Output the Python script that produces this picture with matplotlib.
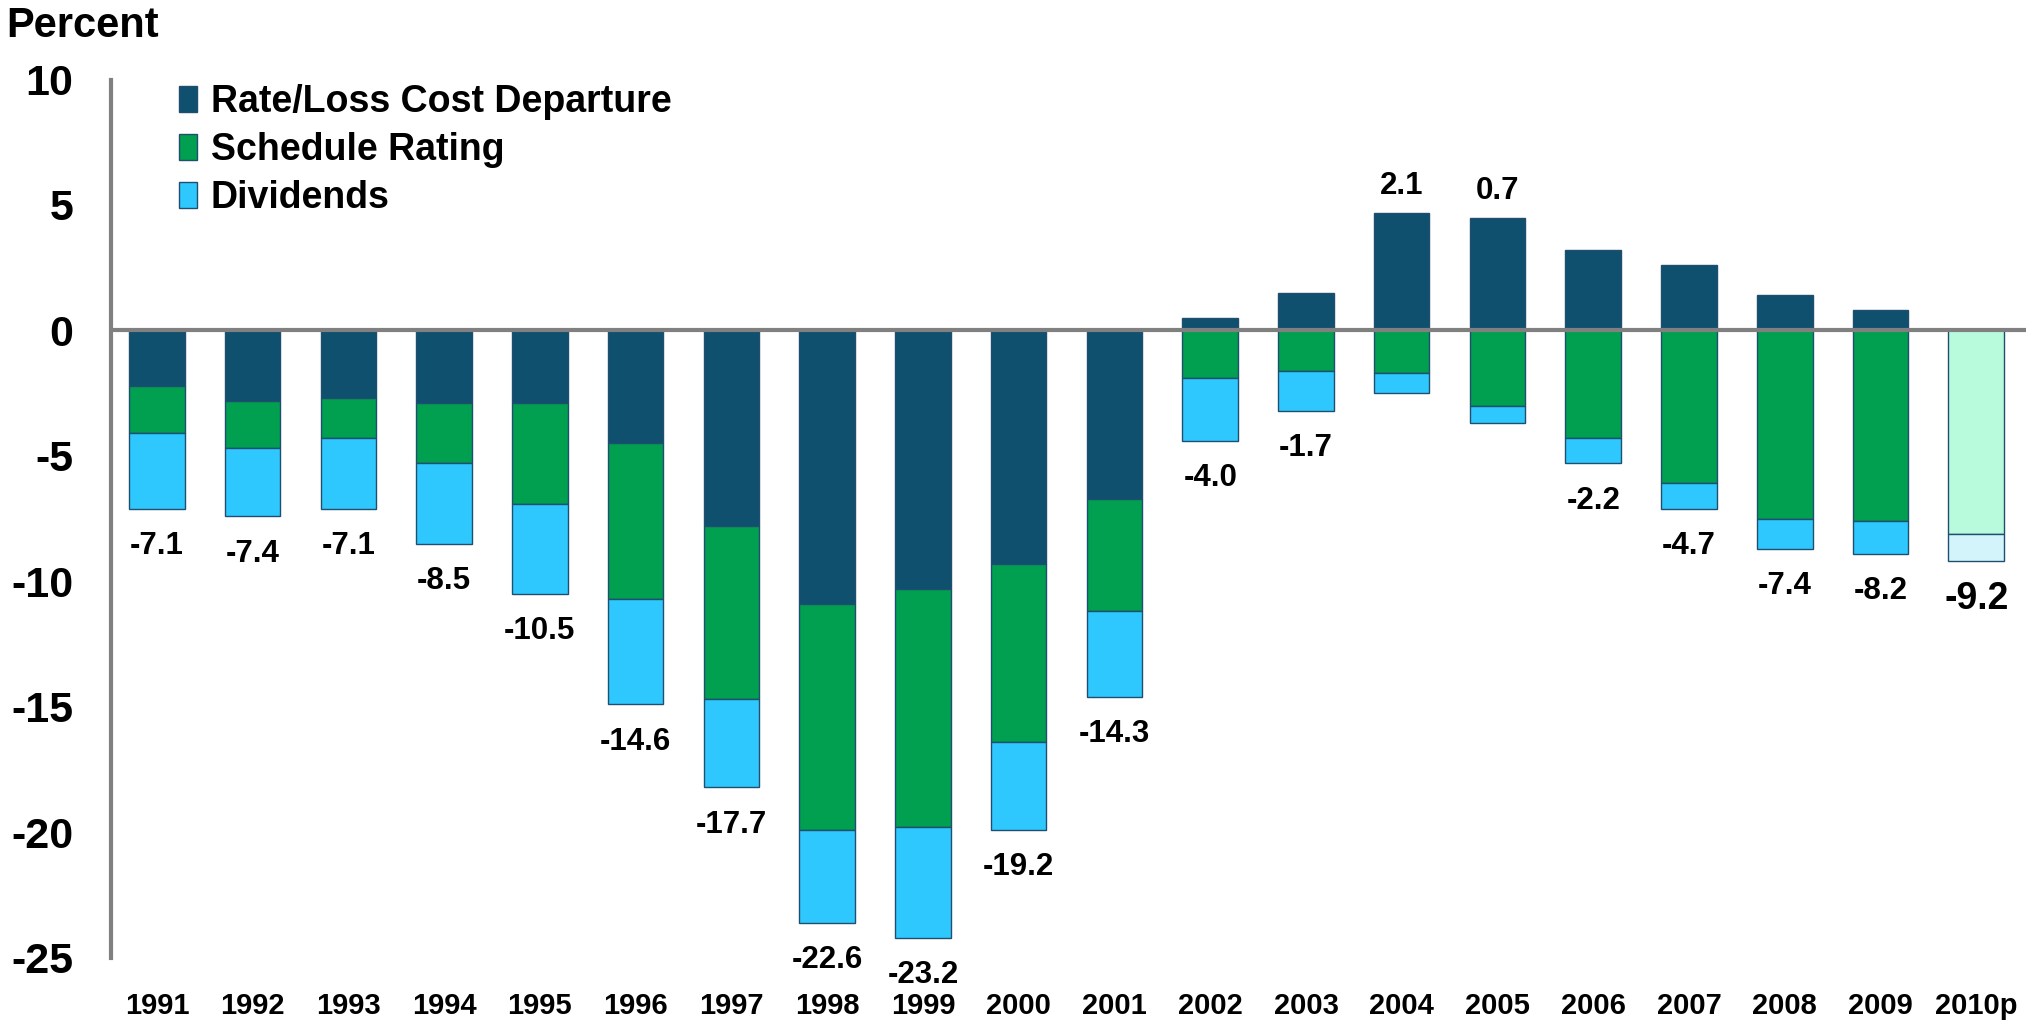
import matplotlib
matplotlib.use('Agg')
import matplotlib.pyplot as plt
import numpy as np

plt.rcParams['font.family'] = ['Liberation Sans', 'DejaVu Sans']
plt.rcParams['font.weight'] = 'bold'
plt.rcParams['axes.unicode_minus'] = False

years = ['1991', '1992', '1993', '1994', '1995', '1996', '1997', '1998', '1999', '2000',
         '2001', '2002', '2003', '2004', '2005', '2006', '2007', '2008', '2009', '2010p']
rate_loss = [-2.2, -2.8, -2.7, -2.9, -2.9, -4.5, -7.8, -10.9, -10.3, -9.3,
             -6.7, 0.5, 1.5, 4.7, 4.5, 3.2, 2.6, 1.4, 0.8, 0.0]
schedule = [-1.9, -1.9, -1.6, -2.4, -4.0, -6.2, -6.9, -9.0, -9.5, -7.1,
            -4.5, -1.9, -1.6, -1.7, -3.0, -4.3, -6.1, -7.5, -7.6, -8.1]
dividends = [-3.0, -2.7, -2.8, -3.2, -3.6, -4.2, -3.5, -3.7, -4.4, -3.5,
             -3.4, -2.5, -1.6, -0.8, -0.7, -1.0, -1.0, -1.2, -1.3, -1.1]
totals = ['-7.1', '-7.4', '-7.1', '-8.5', '-10.5', '-14.6', '-17.7', '-22.6', '-23.2', '-19.2',
          '-14.3', '-4.0', '-1.7', '2.1', '0.7', '-2.2', '-4.7', '-7.4', '-8.2', '-9.2']

c_rate = '#10506F'
c_sched = '#00A050'
c_div = '#2EC8FF'
edge = '#1F4E6E'

x = np.arange(len(years))
rate = np.array(rate_loss)
sched = np.array(schedule)
div = np.array(dividends)

sched_bottom = np.minimum(rate, 0)
div_bottom = sched_bottom + sched

sched_colors = [c_sched] * (len(years) - 1) + ['#B8FADC']
div_colors = [c_div] * (len(years) - 1) + ['#D4F4FC']

fig = plt.figure(figsize=(20.43, 10.25), dpi=100)
ax = fig.add_axes([0.0543, 0.0657, 0.9374, 0.8567])

w = 0.58
ax.bar(x, rate, w, color=c_rate, edgecolor=edge, linewidth=1, label='Rate/Loss Cost Departure')
ax.bar(x, sched, w, bottom=sched_bottom, color=sched_colors, edgecolor=edge, linewidth=1,
       label='Schedule Rating')
ax.bar(x, div, w, bottom=div_bottom, color=div_colors, edgecolor=edge, linewidth=1,
       label='Dividends')

# net value labels, last one (projection) is bigger
for i, t in enumerate(totals):
    fs = 27 if i == len(years) - 1 else 22.5
    if float(t) > 0:
        ax.annotate(t, (x[i], rate[i]), xytext=(0, 19), textcoords='offset points',
                    ha='center', va='center', fontsize=fs, fontweight='bold')
    else:
        low = div_bottom[i] + div[i]
        ax.annotate(t, (x[i], low), xytext=(0, -27), textcoords='offset points',
                    ha='center', va='center', fontsize=fs, fontweight='bold')

ax.axhline(0, color='#808080', linewidth=3, zorder=3)

ax.set_xlim(-0.48, 19.52)
ax.set_ylim(-25, 10)
ax.set_yticks([10, 5, 0, -5, -10, -15, -20, -25])
ax.set_xticks(x)
ax.set_xticklabels(years)
ax.tick_params(axis='x', length=0, pad=25, labelsize=21)
ax.tick_params(axis='y', length=0, pad=27, labelsize=31)

for s in ['top', 'right', 'bottom']:
    ax.spines[s].set_visible(False)
ax.spines['left'].set_color('#808080')
ax.spines['left'].set_linewidth(3)

ax.legend(loc='upper left', bbox_to_anchor=(0.0354, 0.995), frameon=False, fontsize=27,
          handlelength=0.5, handleheight=0.7, handletextpad=0.35, labelspacing=0.32,
          borderaxespad=0, borderpad=0)

fig.text(0.003, 0.975, 'Percent', fontsize=30, fontweight='bold', va='center', ha='left')

fig.savefig('out.png', dpi=100)
